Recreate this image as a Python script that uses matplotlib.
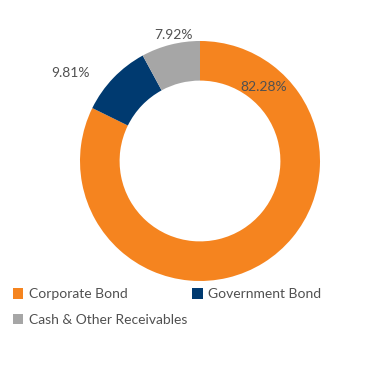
import matplotlib.pyplot as plt
from matplotlib.patches import Patch

# data
labels = ["Corporate Bond", "Government Bond", "Cash & Other Receivables"]
values = [82.28, 9.81, 7.92]
colors = ["#F5841F", "#003A70", "#A6A6A6"]
pct_text = ["82.28%", "9.81%", "7.92%"]
# label positions (data units, centre = 0,0)
label_pos = [(0.53, 0.62), (-1.08, 0.73), (-0.22, 1.05)]

plt.rcParams['font.family'] = ['Lato', 'DejaVu Sans']

fig = plt.figure(figsize=(3.69, 3.90), dpi=100)
ax = fig.add_axes([0.2168, 0.2795, 0.6504, 0.6154])

ax.pie(values, colors=colors, startangle=90, counterclock=False,
       radius=1.0, wedgeprops=dict(width=0.33, edgecolor="none"))
ax.set_xlim(-1, 1)
ax.set_ylim(-1, 1)
ax.set_aspect('auto')

for (x, y), t in zip(label_pos, pct_text):
    ax.text(x, y, t, ha='center', va='center', fontsize=10, color='#505050')

# legend fills column-wise, so reorder to get row order Corporate, Government / Cash
order = [0, 2, 1]
handles = [Patch(facecolor=colors[i], edgecolor='none') for i in order]
leg = fig.legend(handles, [labels[i] for i in order], loc='upper left',
                 bbox_to_anchor=(0.02, 0.275), ncol=2, frameon=False,
                 fontsize=10, handlelength=0.75, handleheight=0.75,
                 handletextpad=0.4, columnspacing=0.35, labelspacing=0.95,
                 borderaxespad=0)
for t in leg.get_texts():
    t.set_color('#505050')

fig.savefig("out.png", dpi=100)
